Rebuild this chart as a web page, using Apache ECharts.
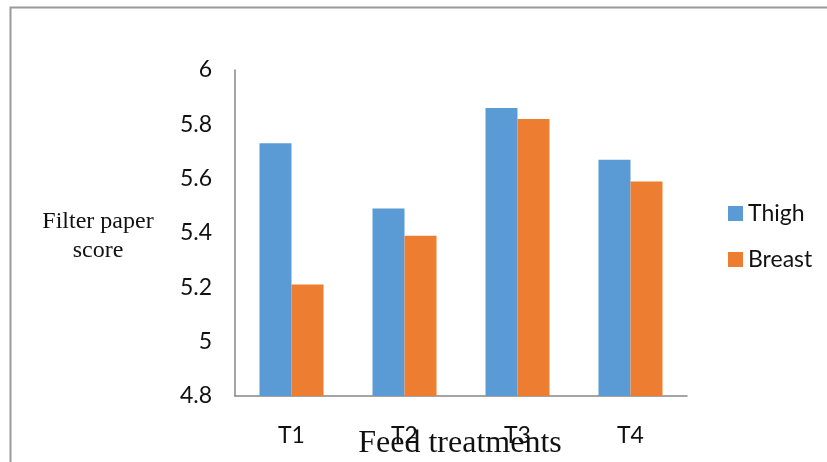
<!DOCTYPE html>
<html>
<head>
<meta charset="utf-8">
<script src="https://cdn.jsdelivr.net/npm/echarts@6/dist/echarts.min.js"></script>
<style>
html,body{margin:0;padding:0;background:#fff;}
#c{width:827px;height:462px;}
</style>
</head>
<body>
<div id="c"></div>
<script>
const categories = ['T1', 'T2', 'T3', 'T4'];
const thigh = [5.73, 5.49, 5.86, 5.67];
const breast = [5.21, 5.39, 5.82, 5.59];
const yTicks = [4.8, 5, 5.2, 5.4, 5.6, 5.8, 6];

const chart = echarts.init(document.getElementById('c'));
const sansFont = 'Lato, "Open Sans", sans-serif';
chart.setOption({
  animation: false,
  backgroundColor: '#fff',
  grid: { left: 235, right: 140, top: 70, bottom: 66 },
  legend: {
    orient: 'vertical',
    left: 728, top: 202,
    padding: 0,
    itemWidth: 15, itemHeight: 15, itemGap: 23,
    icon: 'rect',
    textStyle: { fontFamily: sansFont, fontSize: 23, color: '#111' },
    data: ['Thigh', 'Breast']
  },
  xAxis: {
    type: 'category',
    data: categories,
    axisLine: { lineStyle: { color: '#868686', width: 1.5 } },
    axisTick: { show: false },
    axisLabel: { fontFamily: sansFont, fontSize: 23, color: '#111', margin: 28 }
  },
  yAxis: {
    type: 'value',
    min: 4.8, max: 6, interval: 0.2,
    splitLine: { show: false },
    axisLine: { show: true, lineStyle: { color: '#868686', width: 1.5 } },
    axisTick: { show: false },
    axisLabel: {
      fontFamily: sansFont, fontSize: 23, color: '#111', margin: 23,
      formatter: v => { const t = yTicks.find(x => Math.abs(x - v) < 1e-6); return t === undefined ? '' : String(t); }
    }
  },
  series: [
    { name: 'Thigh', type: 'bar', data: thigh, barWidth: 32, barGap: '0%', itemStyle: { color: '#5B9BD5' } },
    { name: 'Breast', type: 'bar', data: breast, barWidth: 32, barGap: '0%', itemStyle: { color: '#ED7D31' } }
  ],
  graphic: [
    { type: 'rect', shape: { x: 10.5, y: 7.5, width: 830, height: 470 }, style: { fill: 'none', stroke: '#9a9a9a', lineWidth: 2 } },
    { type: 'text', x: 98, y: 207, style: { text: 'Filter paper\nscore', textAlign: 'center', font: '24px "Liberation Serif", serif', fill: '#111', lineHeight: 29 } },
    { type: 'text', x: 460, y: 428, style: { text: 'Feed treatments', textAlign: 'center', font: '32px "Liberation Serif", serif', fill: '#111' } }
  ]
});
</script>
</body>
</html>
